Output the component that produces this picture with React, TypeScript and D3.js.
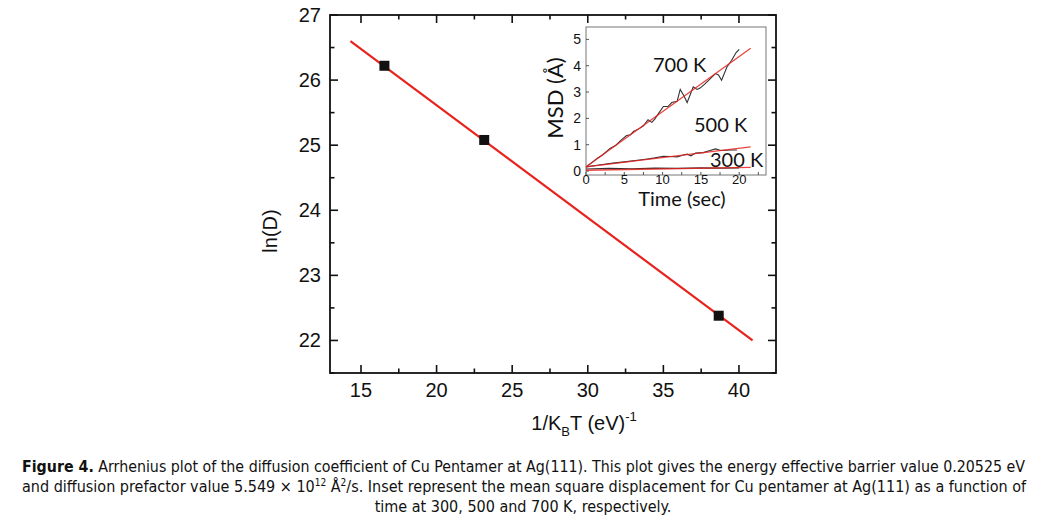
import * as d3 from "d3";

// main Arrhenius data
const invKT = [16.55, 23.15, 38.66];
const lnD = [26.22, 25.08, 22.38];
const fitX = [14.3, 40.9];
const fitY = [26.6, 22.0];
const xTicks = [15, 20, 25, 30, 35, 40];
const yTicks = [22, 23, 24, 25, 26, 27];

// inset MSD data
const t700 = [0, 0.7, 1.4, 2.2, 3.1, 3.9, 4.7, 5.3, 5.8, 6.2, 7.0, 7.5, 8.1, 8.6, 9.0, 9.5, 10.1, 10.7, 11.2, 11.9, 12.3, 12.8, 13.2, 13.6, 14.0, 14.5, 14.9, 15.5, 16.2, 16.9, 17.3, 17.7, 18.4, 19.0, 19.6, 20.0];
const msd700 = [0.16, 0.3, 0.47, 0.62, 0.85, 0.98, 1.2, 1.35, 1.38, 1.5, 1.62, 1.72, 1.95, 1.85, 1.98, 2.2, 2.45, 2.45, 2.6, 2.65, 3.1, 2.85, 2.6, 2.9, 3.2, 3.1, 3.15, 3.3, 3.5, 3.7, 3.65, 3.45, 3.95, 4.2, 4.5, 4.62];
const t500 = [0, 1.5, 3.5, 5.0, 7.0, 8.0, 9.0, 10.1, 11.0, 11.9, 12.6, 13.2, 13.7, 14.3, 15.3, 16.2, 16.9, 17.6, 18.8, 19.7];
const msd500 = [0.16, 0.22, 0.3, 0.35, 0.42, 0.46, 0.5, 0.56, 0.55, 0.54, 0.6, 0.64, 0.58, 0.68, 0.7, 0.78, 0.84, 0.78, 0.8, 0.8];
const t300 = [0, 3, 6, 9, 12, 15, 18, 20];
const msd300 = [0.08, 0.1, 0.09, 0.11, 0.1, 0.12, 0.11, 0.12];
const fit700 = [0.16, 4.66];
const fit500 = [0.16, 0.92];
const fit300 = [0.03, 0.14];
const fitT = [0, 21.5];
const insetYTicks = [0, 1, 2, 3, 4, 5];
const insetXTicks = [0, 5, 10, 15, 20];

const RED = "#e8231e";
const SANS = "'Liberation Sans', Arial, sans-serif";
const LATO = "Lato, 'Open Sans', sans-serif";

export default function App() {
  const x = d3.scaleLinear().domain([12.95, 42.45]).range([330, 776]);
  const y = d3.scaleLinear().domain([21.5, 27]).range([373, 15]);
  const ix = d3.scaleLinear().domain([0, 23.5]).range([586, 766]);
  const iy = d3.scaleLinear().domain([-0.15, 5.47]).range([175, 27]);

  const xMinor = d3.range(15, 42.5, 2.5);
  const yMinor = d3.range(21.5, 27.01, 0.5);
  const ixMinor = d3.range(0, 23, 2.5);

  const line = d3.line<[number, number]>().x((d) => ix(d[0])).y((d) => iy(d[1]));
  const zip = (a: number[], b: number[]) => a.map((v, i) => [v, b[i]] as [number, number]);

  return (
    <svg width={1047} height={520} style={{ position: "absolute", left: 0, top: 0, background: "#fff" }}>
      {/* main frame ticks */}
      {xMinor.map((v) => {
        const major = v % 5 === 0;
        const len = major ? 8 : 4.5;
        return (
          <g key={"xt" + v} stroke="#111" strokeWidth={1.6}>
            <line x1={x(v)} x2={x(v)} y1={373} y2={373 - len} />
            <line x1={x(v)} x2={x(v)} y1={15} y2={15 + len} />
          </g>
        );
      })}
      {yMinor.map((v) => {
        const major = Math.abs(v - Math.round(v)) < 1e-6;
        const len = major ? 8 : 4.5;
        return (
          <g key={"yt" + v} stroke="#111" strokeWidth={1.6}>
            <line x1={330} x2={330 + len} y1={y(v)} y2={y(v)} />
            <line x1={776} x2={776 - len} y1={y(v)} y2={y(v)} />
          </g>
        );
      })}
      <rect x={330} y={15} width={446} height={358} fill="none" stroke="#111" strokeWidth={1.8} />
      {xTicks.map((v) => (
        <text key={"xl" + v} x={x(v)} y={397} textAnchor="middle" fontFamily={SANS} fontSize={20} fill="#111">{v}</text>
      ))}
      {yTicks.map((v) => (
        <text key={"yl" + v} x={321} y={y(v) + 7} textAnchor="end" fontFamily={SANS} fontSize={20} fill="#111">{v}</text>
      ))}
      <text transform="translate(277,231) rotate(-90)" textAnchor="middle" fontFamily={SANS} fontSize={20} fill="#111">ln(D)</text>
      <text x={584} y={430} textAnchor="middle" fontFamily={SANS} fontSize={20} fill="#111">
        1/K<tspan fontSize={13} dy={6}>B</tspan><tspan dy={-6}>T (eV)</tspan><tspan fontSize={13} dy={-9}>-1</tspan>
      </text>

      {/* fit line & points */}
      <line x1={x(fitX[0])} y1={y(fitY[0])} x2={x(fitX[1])} y2={y(fitY[1])} stroke={RED} strokeWidth={2.2} />
      {invKT.map((v, i) => (
        <rect key={"p" + i} x={x(v) - 5} y={y(lnD[i]) - 5} width={10} height={10} fill="#111" />
      ))}

      {/* inset */}
      <rect x={586} y={27} width={180} height={148} fill="#fff" stroke="#777" strokeWidth={1} />
      {insetYTicks.map((v) => (
        <g key={"iyt" + v}>
          <line x1={586} x2={589} y1={iy(v)} y2={iy(v)} stroke="#555" strokeWidth={1} />
          <text x={581} y={iy(v) + 5} textAnchor="end" fontFamily={SANS} fontSize={14} fill="#111">{v}</text>
        </g>
      ))}
      {ixMinor.map((v) => (
        <line key={"ixt" + v} x1={ix(v)} x2={ix(v)} y1={175} y2={172} stroke="#555" strokeWidth={1} />
      ))}
      {insetXTicks.map((v) => (
        <text key={"ixl" + v} x={ix(v)} y={184} textAnchor="middle" fontFamily={SANS} fontSize={13} fill="#111">{v}</text>
      ))}
      <path d={line(zip(t300, msd300)) ?? ""} fill="none" stroke="#333" strokeWidth={1.1} />
      <path d={line(zip(t500, msd500)) ?? ""} fill="none" stroke="#333" strokeWidth={1.1} />
      <path d={line(zip(t700, msd700)) ?? ""} fill="none" stroke="#333" strokeWidth={1.1} />
      <path d={line(zip(fitT, fit300)) ?? ""} fill="none" stroke={RED} strokeWidth={1.3} opacity={0.85} />
      <path d={line(zip(fitT, fit500)) ?? ""} fill="none" stroke={RED} strokeWidth={1.3} opacity={0.85} />
      <path d={line(zip(fitT, fit700)) ?? ""} fill="none" stroke={RED} strokeWidth={1.3} opacity={0.85} />
      <text x={653} y={72} fontFamily={LATO} fontSize={20} fill="#111">700 K</text>
      <text x={694} y={132} fontFamily={LATO} fontSize={20} fill="#111">500 K</text>
      <text x={710} y={167} fontFamily={LATO} fontSize={20} fill="#111">300 K</text>
      <text x={682} y={206} textAnchor="middle" fontFamily={LATO} fontSize={20} fill="#111">Time (sec)</text>
      <text transform="translate(563,98) rotate(-90)" textAnchor="middle" fontFamily={LATO} fontSize={22} fill="#111">MSD (Å)</text>

      {/* caption */}
      <g fontFamily="'Liberation Sans Narrow', 'DejaVu Sans Condensed', sans-serif" fontSize={16} fill="#111">
        <text x={22} y={472} textLength={1003} lengthAdjust="spacingAndGlyphs">
          <tspan fontWeight="bold">Figure 4.</tspan> Arrhenius plot of the diffusion coefficient of Cu Pentamer at Ag(111). This plot gives the energy effective barrier value 0.20525 eV
        </text>
        <text x={22} y={492} textLength={1004} lengthAdjust="spacingAndGlyphs">
          and diffusion prefactor value 5.549 × 10<tspan fontSize={10} dy={-6}>12</tspan><tspan dy={6}> Å</tspan><tspan fontSize={10} dy={-6}>2</tspan><tspan dy={6}>/s. Inset represent the mean square displacement for Cu pentamer at Ag(111) as a function of</tspan>
        </text>
        <text x={523} y={512} textAnchor="middle">time at 300, 500 and 700 K, respectively.</text>
      </g>
    </svg>
  );
}
